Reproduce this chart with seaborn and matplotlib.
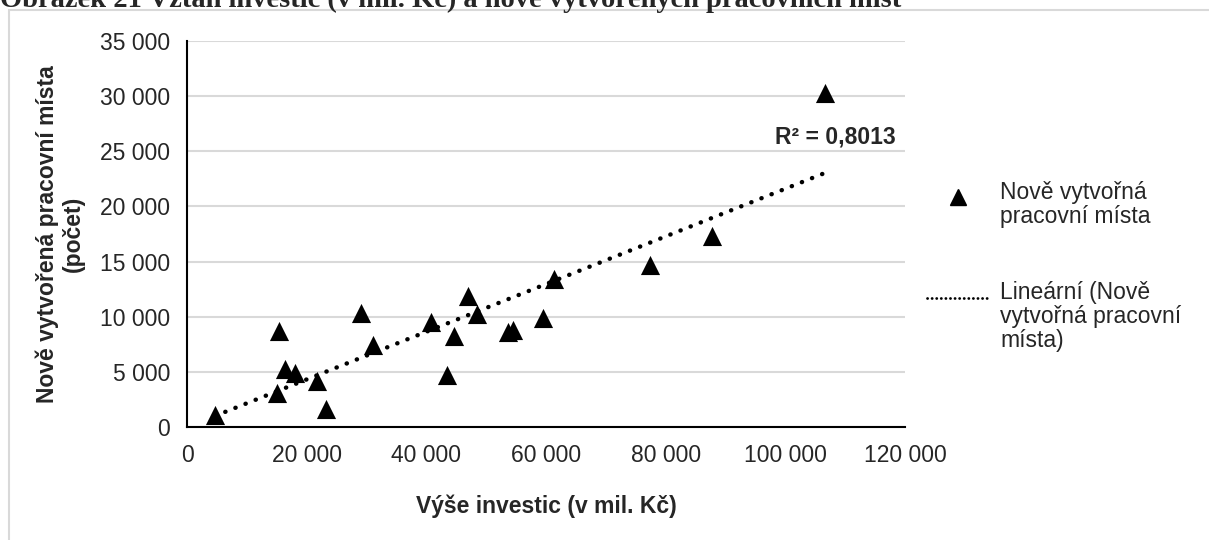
import numpy as np
import pandas as pd
import seaborn as sns
import matplotlib.pyplot as plt
from matplotlib.lines import Line2D
from matplotlib.patches import Rectangle
from matplotlib.ticker import FuncFormatter

# hodnoty
investice = [4700, 15000, 15300, 16300, 18000, 21700, 23200, 29100, 31000,
             40700, 43400, 44600, 47000, 48400, 53700, 54400, 59500, 61300,
             77400, 87800, 106700]
mista = [1100, 3050, 8700, 5300, 4850, 4200, 1600, 10300, 7450,
         9550, 4700, 8250, 11900, 10200, 8600, 8750, 9850, 13450,
         14700, 17350, 30300]
r2_text = 'R² = 0,8013'
nazev = 'Obrázek 21 Vztah investic (v mil. Kč) a nově vytvořených pracovních míst'

data = pd.DataFrame({'investice': investice, 'mista': mista})

sns.set_style('white')
plt.rcParams['font.family'] = ['Liberation Sans', 'DejaVu Sans']

fig = plt.figure(figsize=(12.09, 5.40), dpi=100)
ax = fig.add_axes([0.1547, 0.2093, 0.5939, 0.7148])

# rámeček kolem grafu + nadpis (nahoře oříznutý jako v originále)
fig.patches.append(Rectangle((9 / 1209, -0.1), 1.1, 1 - 9.5 / 540 + 0.1,
                             transform=fig.transFigure, fill=False,
                             edgecolor='#d9d9d9', lw=1.5))
fig.text(0.0, 1 - 7 / 540, nazev, family='Liberation Serif', weight='bold',
         fontsize=20.5, va='baseline', ha='left')

# lineární trend
k, q = np.polyfit(data['investice'], data['mista'], 1)
xs = np.array([data['investice'].min(), data['investice'].max()])
ax.plot(xs, k * xs + q, color='black', lw=3.2, linestyle=(0, (0.05, 2.4)),
        dash_capstyle='round', zorder=2)

sns.scatterplot(data=data, x='investice', y='mista', marker='^', s=190,
                color='black', linewidth=0, ax=ax, zorder=3)

ax.set_xlim(0, 120000)
ax.set_ylim(0, 35000)
ax.set_xticks(range(0, 120001, 20000))
ax.set_yticks(range(0, 35001, 5000))
fmt = FuncFormatter(lambda v, p: f'{int(v):,}'.replace(',', ' '))
ax.xaxis.set_major_formatter(fmt)
ax.yaxis.set_major_formatter(fmt)
ax.tick_params(labelsize=16.5, length=0, pad=12)
ax.grid(axis='y', color='#d9d9d9', lw=1.5)
ax.set_axisbelow(True)
for s in ['top', 'right']:
    ax.spines[s].set_visible(False)
for s in ['left', 'bottom']:
    ax.spines[s].set_color('black')
    ax.spines[s].set_linewidth(1.5)

ax.set_xlabel('Výše investic (v mil. Kč)', fontsize=16.5, weight='bold',
              labelpad=20)
ax.set_ylabel('Nově vytvořená pracovní místa\n(počet)', fontsize=16.5,
              weight='bold', labelpad=11, linespacing=1.15)

ax.text(118500, 26300, r2_text, fontsize=16.5, weight='bold', ha='right',
        va='center')

handles = [Line2D([], [], marker='^', color='black', ls='none', ms=11),
           Line2D([], [], color='black', lw=2, linestyle=(0, (0.05, 1.6)),
                  dash_capstyle='round')]
labels = ['Nově vytvořná\npracovní místa',
          'Lineární (Nově\nvytvořná pracovní\nmísta)']
leg = ax.legend(handles, labels, loc='upper left', bbox_to_anchor=(1.002, 0.69),
                frameon=False, fontsize=16.5, handlelength=2.7,
                handletextpad=0.5, labelspacing=2.3)
for t in leg.get_texts():
    t.set_linespacing(1.05)
# symboly legendy zarovnat k prvnímu řádku jako v Excelu
for h, dy in zip(leg.legend_handles, [6, 14]):
    h.set_ydata(np.asarray(h.get_ydata(), dtype=float) + dy)

fig.savefig('out.png', dpi=100)
